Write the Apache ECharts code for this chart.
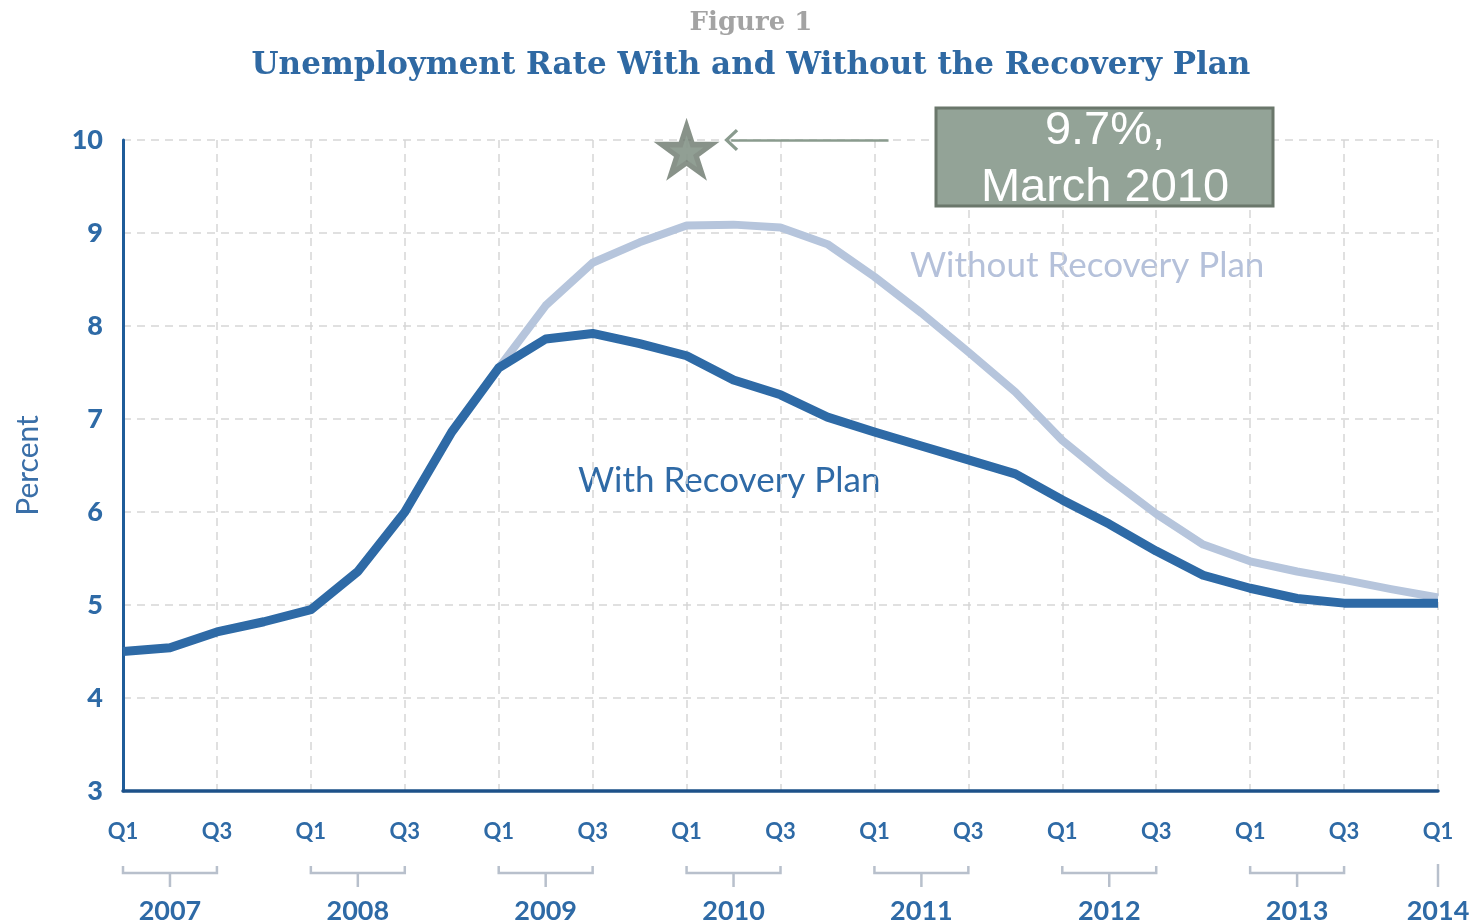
<!DOCTYPE html>
<html>
<head>
<meta charset="utf-8">
<title>Unemployment Rate With and Without the Recovery Plan</title>
<script src="https://cdn.jsdelivr.net/npm/echarts@6/dist/echarts.min.js"></script>
<style>
  html, body { margin: 0; padding: 0; background: #fff; }
  #chart { width: 1472px; height: 923px; }
</style>
</head>
<body>
<div id="chart"></div>
<script>
  // quarters from 2007 Q1 (index 0) to 2014 Q1 (index 28)
  var quarterLabels = ['Q1', 'Q2', 'Q3', 'Q4'];
  var years = ['2007', '2008', '2009', '2010', '2011', '2012', '2013', '2014'];

  // unemployment rate, percent
  var withPlan = [4.50, 4.54, 4.71, 4.82, 4.95, 5.36, 6.00, 6.86,
                  7.55, 7.86, 7.92, 7.81, 7.68, 7.42, 7.26, 7.02,
                  6.86, 6.71, 6.56, 6.41, 6.13, 5.87, 5.58, 5.32,
                  5.18, 5.07, 5.02, 5.02, 5.02];
  var withoutPlan = [null, null, null, null, null, null, null, null,
                     7.55, 8.22, 8.68, 8.90, 9.08, 9.09, 9.06, 8.88,
                     8.53, 8.14, 7.72, 7.29, 6.77, 6.36, 5.98, 5.65,
                     5.47, 5.36, 5.27, 5.17, 5.08];

  var yTicks = [3, 4, 5, 6, 7, 8, 9, 10];
  var starPoint = [12, 9.9];            // 2010 Q1
  var arrowFrom = [16.3, 10];
  var arrowTo = [12.95, 10];

  var blue = '#2e6aa6';
  var light = '#b6c5dc';
  var grey = '#d6d6d6';
  var sage = '#93a397';
  var sageDark = '#6a776b';

  function toPairs(arr) {
    return arr.map(function (v, i) { return [i, v == null ? '-' : v]; });
  }

  var bracketData = years.map(function (y, k) {
    var s = k * 4;
    var e = k < years.length - 1 ? s + 2 : s;
    var m = k < years.length - 1 ? s + 1 : s;
    return [s, e, m, 3];
  });

  var starPath = 'path://M50,0 L61.23,34.55 L97.55,34.55 L68.16,55.9 L79.39,90.45 L50,69.1 L20.61,90.45 L31.84,55.9 L2.45,34.55 L38.77,34.55 Z';
  var chevron = 'path://M10,0 L20,10 L18,12 L10,4 L2,12 L0,10 Z';

  var chart = echarts.init(document.getElementById('chart'));

  chart.setOption({
    animation: false,
    title: [{
      text: 'Figure 1',
      left: 746,
      textAlign: 'center',
      top: 5,
      textStyle: { fontFamily: 'DejaVu Serif', fontWeight: 'bold', fontSize: 26, color: '#a3a3a3' }
    }, {
      text: 'Unemployment Rate With and Without the Recovery Plan',
      left: 746,
      textAlign: 'center',
      top: 45,
      textStyle: { fontFamily: 'DejaVu Serif', fontWeight: 'bold', fontSize: 31, color: '#2f69a3' }
    }],
    grid: { left: 123, right: 34, top: 140, bottom: 132 },
    xAxis: {
      type: 'value',
      min: 0,
      max: 28,
      interval: 2,
      axisLine: { show: true, lineStyle: { color: '#1d5189', width: 3.5 } },
      axisTick: { show: false },
      axisLabel: {
        margin: 30,
        color: blue,
        fontFamily: 'Lato',
        fontWeight: 'bold',
        fontSize: 22,
        formatter: function (v) { return quarterLabels[v % 4]; }
      },
      splitLine: { show: true, lineStyle: { color: grey, type: [8, 6], width: 1.5 } }
    },
    yAxis: {
      type: 'value',
      min: yTicks[0],
      max: yTicks[yTicks.length - 1],
      interval: 1,
      name: 'Percent',
      nameLocation: 'middle',
      nameGap: 80,
      nameRotate: 90,
      nameTextStyle: { color: '#3a6fa8', fontFamily: 'Lato', fontSize: 30 },
      axisLine: { show: true, lineStyle: { color: '#1f5c99', width: 3 } },
      axisTick: { show: false },
      axisLabel: { margin: 20, color: blue, fontFamily: 'Lato', fontWeight: 900, fontSize: 27 },
      splitLine: { show: true, lineStyle: { color: grey, type: [8, 6], width: 1.5 } }
    },
    series: [{
      name: 'Without Recovery Plan',
      type: 'line',
      data: toPairs(withoutPlan),
      symbol: 'none',
      lineStyle: { color: light, width: 8, join: 'round' },
      z: 2
    }, {
      name: 'With Recovery Plan',
      type: 'line',
      data: toPairs(withPlan),
      symbol: 'none',
      lineStyle: { color: blue, width: 9, join: 'round' },
      z: 3
    }, {
      name: 'star',
      type: 'scatter',
      data: [starPoint],
      symbol: starPath,
      symbolSize: [66, 63],
      itemStyle: { color: sageDark },
      z: 4,
      markLine: {
        silent: true,
        symbol: ['none', chevron],
        symbolSize: [22, 14],
        label: { show: false },
        lineStyle: { color: '#8a9b8e', width: 2.5, type: 'solid' },
        data: [[{ coord: arrowFrom }, { coord: arrowTo }]]
      }
    }, {
      name: 'starInner',
      type: 'scatter',
      data: [starPoint],
      symbol: starPath,
      symbolSize: [34, 32],
      symbolOffset: [0, 2],
      itemStyle: { color: sage },
      z: 5
    }, {
      name: 'years',
      type: 'custom',
      data: bracketData,
      encode: { x: [0, 1, 2], y: 3 },
      clip: false,
      silent: true,
      renderItem: function (params, api) {
        var s = api.coord([api.value(0), 3]);
        var e = api.coord([api.value(1), 3]);
        var m = api.coord([api.value(2), 3]);
        var base = s[1];
        var st = { stroke: '#b8c0cc', lineWidth: 2.5, fill: 'none' };
        var kids = [];
        if (api.value(0) !== api.value(1)) {
          kids.push({ type: 'polyline', shape: { points: [[s[0], base + 75], [s[0], base + 82], [e[0], base + 82], [e[0], base + 75]] }, style: st });
          kids.push({ type: 'line', shape: { x1: m[0], y1: base + 82, x2: m[0], y2: base + 96 }, style: st });
        } else {
          kids.push({ type: 'line', shape: { x1: m[0], y1: base + 73, x2: m[0], y2: base + 96 }, style: st });
        }
        kids.push({
          type: 'text',
          style: {
            text: years[params.dataIndex],
            x: m[0], y: base + 120,
            align: 'center', verticalAlign: 'middle',
            fill: blue, fontFamily: 'Lato', fontWeight: 'bold', fontSize: 27
          }
        });
        return { type: 'group', children: kids };
      }
    }],
    graphic: [{
      type: 'text',
      x: 578, y: 481,
      style: { text: 'With Recovery Plan', fill: '#2f6aa6', fontFamily: 'Lato', fontSize: 35, align: 'left', verticalAlign: 'middle' }
    }, {
      type: 'text',
      x: 910, y: 266,
      style: { text: 'Without Recovery Plan', fill: '#b5c1da', fontFamily: 'Lato', fontSize: 35, align: 'left', verticalAlign: 'middle' }
    }, {
      type: 'rect',
      shape: { x: 936, y: 108, width: 337, height: 98 },
      style: { fill: sage, stroke: sageDark, lineWidth: 3 },
      z: 10
    }, {
      type: 'text',
      x: 1105, y: 131,
      style: { text: '9.7%,', fill: '#fff', fontFamily: 'Liberation Sans', fontSize: 47, align: 'center', verticalAlign: 'middle' },
      z: 11
    }, {
      type: 'text',
      x: 1105, y: 188,
      style: { text: 'March 2010', fill: '#fff', fontFamily: 'Liberation Sans', fontSize: 47, align: 'center', verticalAlign: 'middle' },
      z: 11
    }]
  });
</script>
</body>
</html>
